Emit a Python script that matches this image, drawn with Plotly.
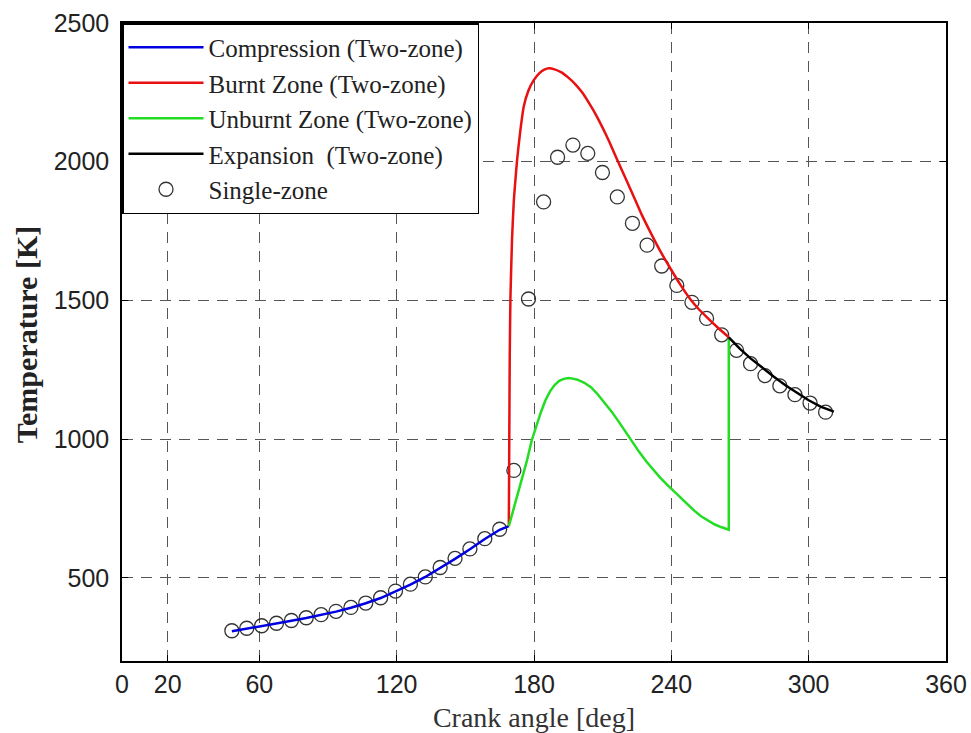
import plotly.graph_objects as go

# ---- data ----
comp_x = [48, 54.5, 61, 67.5, 74, 80.5, 87, 93.5, 100, 106.5, 113, 119.5, 126, 132.5, 139, 145.5, 152, 158.5, 165, 169]
comp_T = [307, 316, 326, 335, 345, 355, 366, 378, 392, 408, 427, 450, 475, 503, 535, 568, 603, 640, 673, 686]

burnt_x = [169.0, 169.2, 169.4, 169.7, 170.4, 171.2, 172.6, 174.0, 175.5, 177.5, 179.9, 182.5, 184.5, 186.5,
           189.0, 192.0, 195.0, 198.0, 201.0, 204.0, 207.0, 210.0, 213.0, 216.4, 220.0, 223.6, 227.0, 230.9,
           235.0, 239.6, 244.0, 248.4, 252.0, 255.7, 260.0, 265.1]
burnt_T = [686, 1000, 1300, 1508, 1720, 1862, 2006, 2110, 2198, 2255, 2294, 2320, 2332, 2337,
           2333, 2322, 2303, 2280, 2250, 2212, 2170, 2122, 2070, 2006, 1940, 1874, 1810, 1745,
           1680, 1615, 1556, 1503, 1468, 1438, 1404, 1367]

unburnt_x = [169.0, 171.0, 173.0, 175.0, 177.0, 179.0, 181.0, 183.0, 185.0, 187.0, 189.0, 191.0, 193.0,
             195.0, 197.0, 199.0, 202.0, 205.0, 208.0, 211.0, 214.0, 217.0, 220.0, 223.0, 226.0, 229.0,
             232.0, 235.0, 238.0, 241.0, 244.0, 247.0, 250.0, 253.0, 256.0, 259.0, 262.0, 265.1, 265.1]
unburnt_T = [686, 745, 805, 865, 925, 995, 1050, 1097, 1140, 1172, 1195, 1210, 1217,
             1220, 1218, 1214, 1203, 1186, 1160, 1130, 1098, 1063, 1025, 988, 953, 920,
             890, 862, 837, 813, 790, 765, 742, 722, 706, 692, 682, 673, 1363]

exp_x = [265.1, 270.0, 274.6, 280.0, 284.8, 290.0, 295.0, 300.0, 305.2, 311.0]
exp_T = [1367, 1325, 1291, 1255, 1225, 1193, 1165, 1140, 1117, 1099]

single_x = [48.0, 54.5, 61.0, 67.5, 74.0, 80.5, 87.0, 93.5, 100.0, 106.5, 113.0, 119.5, 126.0, 132.5,
            139.0, 145.5, 152.0, 158.5, 165.0, 171.2, 177.6, 184.2, 190.3, 197.0, 203.5, 209.9, 216.4,
            223.0, 229.4, 235.8, 242.4, 249.0, 255.4, 262.0, 268.5, 274.6, 280.9, 287.4, 294.0, 300.6, 307.4]
single_T = [309, 318, 327, 336, 346, 356, 367, 379, 393, 409, 428, 452, 477, 503,
            537, 570, 604, 641, 675, 887, 1505, 1855, 2016, 2060, 2030, 1961, 1873,
            1778, 1699, 1624, 1554, 1493, 1435, 1376, 1320, 1272, 1229, 1192, 1160, 1130, 1097]

x_ticks = [0, 20, 60, 120, 180, 240, 300, 360]
y_ticks = [500, 1000, 1500, 2000, 2500]

serif = "Liberation Serif, Times New Roman, serif"
sans = "Liberation Sans, Arial, sans-serif"

fig = go.Figure()
fig.add_trace(go.Scatter(x=single_x, y=single_T, mode="markers", name="Single-zone", legendrank=5,
                         marker=dict(symbol="circle-open", size=14, color="#333333", line=dict(width=1.3))))
fig.add_trace(go.Scatter(x=comp_x, y=comp_T, mode="lines", name="Compression (Two-zone)", legendrank=1,
                         line=dict(color="#0000e0", width=2.5)))
fig.add_trace(go.Scatter(x=burnt_x, y=burnt_T, mode="lines", name="Burnt Zone (Two-zone)", legendrank=2,
                         line=dict(color="#e81010", width=2.5, shape="spline", smoothing=0.4)))
fig.add_trace(go.Scatter(x=unburnt_x, y=unburnt_T, mode="lines", name="Unburnt Zone (Two-zone)", legendrank=3,
                         line=dict(color="#22dd22", width=2.5)))
fig.add_trace(go.Scatter(x=exp_x, y=exp_T, mode="lines", name="Expansion  (Two-zone)", legendrank=4,
                         line=dict(color="#000000", width=2.5)))

axis_common = dict(showline=True, linecolor="black", linewidth=1.5, mirror="ticks",
                   ticks="inside", ticklen=6, tickcolor="black", tickwidth=1, automargin=False,
                   showgrid=True, gridcolor="#555555", gridwidth=1.2, griddash="11px,8px",
                   zeroline=False, tickfont=dict(family=sans, size=25, color="#222222"))

fig.update_xaxes(range=[0, 360], tickmode="array", tickvals=x_ticks, **axis_common,
                 title=dict(text="Crank angle [deg]", font=dict(family=serif, size=28, color="#333333"), standoff=11))
fig.update_yaxes(range=[200, 2500], tickmode="array", tickvals=y_ticks, ticklabelstandoff=6, **axis_common)

fig.add_annotation(text="<b>Temperature [K]</b>", textangle=-90, xref="paper", yref="paper",
                   x=-0.115, y=0.511, xanchor="center", yanchor="middle", showarrow=False,
                   font=dict(family=serif, size=30, color="#222222"))

fig.update_layout(
    width=971, height=733, margin=dict(l=122, r=25, t=23, b=72),
    plot_bgcolor="white", paper_bgcolor="white", showlegend=True,
    legend=dict(x=0, y=1, xanchor="left", yanchor="top", bgcolor="white",
                bordercolor="black", borderwidth=1.5, itemwidth=75,
                font=dict(family=serif, size=25, color="#222222")),
)

fig.write_html("out.html")
